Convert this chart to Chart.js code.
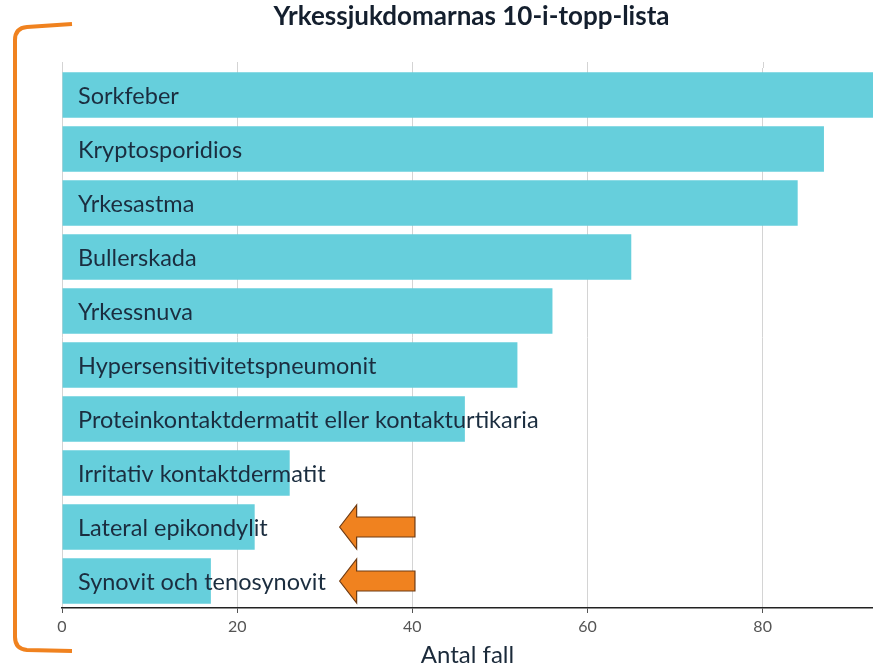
<!DOCTYPE html>
<html lang="sv">
<head>
<meta charset="utf-8" />
<title>Yrkessjukdomarnas 10-i-topp-lista</title>
<script src="https://cdn.jsdelivr.net/npm/chart.js"></script>
<style>
  html, body { margin: 0; padding: 0; background: #fff; }
  #wrap { width: 873px; height: 670px; position: relative; }
</style>
</head>
<body>
<div id="wrap"><canvas id="chart"></canvas></div>
<script>
// data
const diseases = [
  "Sorkfeber",
  "Kryptosporidios",
  "Yrkesastma",
  "Bullerskada",
  "Yrkessnuva",
  "Hypersensitivitetspneumonit",
  "Proteinkontaktdermatit eller kontakturtikaria",
  "Irritativ kontaktdermatit",
  "Lateral epikondylit",
  "Synovit och tenosynovit"
];
const cases = [95, 87, 84, 65, 56, 52, 46, 26, 22, 17];
const xTicks = [0, 20, 40, 60, 80];
const markedRows = ["Lateral epikondylit", "Synovit och tenosynovit"];
// arrow spans in axis units (tip, tail)
const arrowSpan = [31.7, 40.3];

const FONT = "Lato, 'Open Sans', sans-serif";
const ORANGE = "#f0821f";

// labels inside the bars, title, bracket and arrows
const decor = {
  id: "decor",
  beforeDatasetsDraw(chart) {
    // grid lines run a little above the plot top, as in the original
    const { ctx, chartArea, scales: { x } } = chart;
    ctx.save();
    ctx.strokeStyle = "#d4d4d4";
    ctx.lineWidth = 1;
    xTicks.forEach(v => {
      const px = Math.round(x.getPixelForValue(v)) + 0.5;
      ctx.beginPath();
      ctx.moveTo(px, chartArea.top - 6);
      ctx.lineTo(px, chartArea.top);
      ctx.stroke();
    });
    ctx.restore();
  },
  afterDatasetsDraw(chart) {
    const { ctx, chartArea, scales: { x, y } } = chart;
    ctx.save();
    // bar labels
    ctx.font = "23.5px " + FONT;
    ctx.fillStyle = "#1b2d3f";
    ctx.textBaseline = "middle";
    ctx.textAlign = "left";
    diseases.forEach((d, i) => {
      ctx.fillText(d, x.getPixelForValue(0) + 16, y.getPixelForValue(i) + 1);
    });

    // title centred over the plot
    ctx.font = "bold 26px " + FONT;
    ctx.fillStyle = "#141f2e";
    ctx.textAlign = "center";
    ctx.fillText("Yrkessjukdomarnas 10-i-topp-lista", (chartArea.left + chartArea.right) / 2 + 4, 17);

    // orange bracket on the left
    const bx = chartArea.left - 47, top = 24, bot = 651, r = 12;
    ctx.strokeStyle = ORANGE;
    ctx.lineWidth = 4;
    ctx.lineCap = "butt";
    ctx.beginPath();
    ctx.moveTo(chartArea.left + 10, top);
    ctx.lineTo(bx + r, top + 3);
    ctx.quadraticCurveTo(bx, top + 4, bx, top + r + 4);
    ctx.lineTo(bx, bot - r - 2);
    ctx.quadraticCurveTo(bx, bot - 2, bx + r, bot - 1);
    ctx.lineTo(chartArea.left + 10, bot);
    ctx.stroke();

    // arrows pointing at the marked rows
    markedRows.forEach(name => {
      const cy = y.getPixelForValue(diseases.indexOf(name));
      const tip = x.getPixelForValue(arrowSpan[0]);
      const tail = x.getPixelForValue(arrowSpan[1]);
      const neck = tip + 17, hh = 22, bh = 10;
      ctx.beginPath();
      ctx.moveTo(tip, cy);
      ctx.lineTo(neck, cy - hh);
      ctx.lineTo(neck, cy - bh);
      ctx.lineTo(tail, cy - bh);
      ctx.lineTo(tail, cy + bh);
      ctx.lineTo(neck, cy + bh);
      ctx.lineTo(neck, cy + hh);
      ctx.closePath();
      ctx.fillStyle = ORANGE;
      ctx.fill();
      ctx.lineWidth = 1.2;
      ctx.strokeStyle = "#6e3a12";
      ctx.stroke();
    });
    ctx.restore();
  }
};

new Chart(document.getElementById("chart"), {
  type: "bar",
  data: {
    labels: diseases,
    datasets: [{
      data: cases,
      backgroundColor: "#66cfdc",
      borderWidth: 0,
      categoryPercentage: 1,
      barPercentage: 0.84
    }]
  },
  options: {
    indexAxis: "y",
    responsive: true,
    maintainAspectRatio: false,
    animation: false,
    layout: { padding: { left: 62, right: 0, top: 68, bottom: 0 } },
    plugins: {
      legend: { display: false },
      tooltip: { enabled: false }
    },
    scales: {
      x: {
        min: 0,
        max: 92.6,
        afterBuildTicks: axis => { axis.ticks = xTicks.map(v => ({ value: v })); },
        grid: { color: "#d4d4d4", lineWidth: 1, drawTicks: true, tickLength: 5, tickColor: "#555" },
        border: { display: true, color: "#222", width: 1.5 },
        ticks: { color: "#555", font: { family: FONT, size: 16 }, padding: 4 },
        title: {
          display: true,
          text: "Antal fall",
          color: "#1b2a3a",
          font: { family: FONT, size: 24 },
          padding: { top: 1, bottom: 0 }
        }
      },
      y: {
        ticks: { display: false },
        grid: { display: false, drawTicks: false },
        border: { display: false }
      }
    }
  },
  plugins: [decor]
});
</script>
</body>
</html>
